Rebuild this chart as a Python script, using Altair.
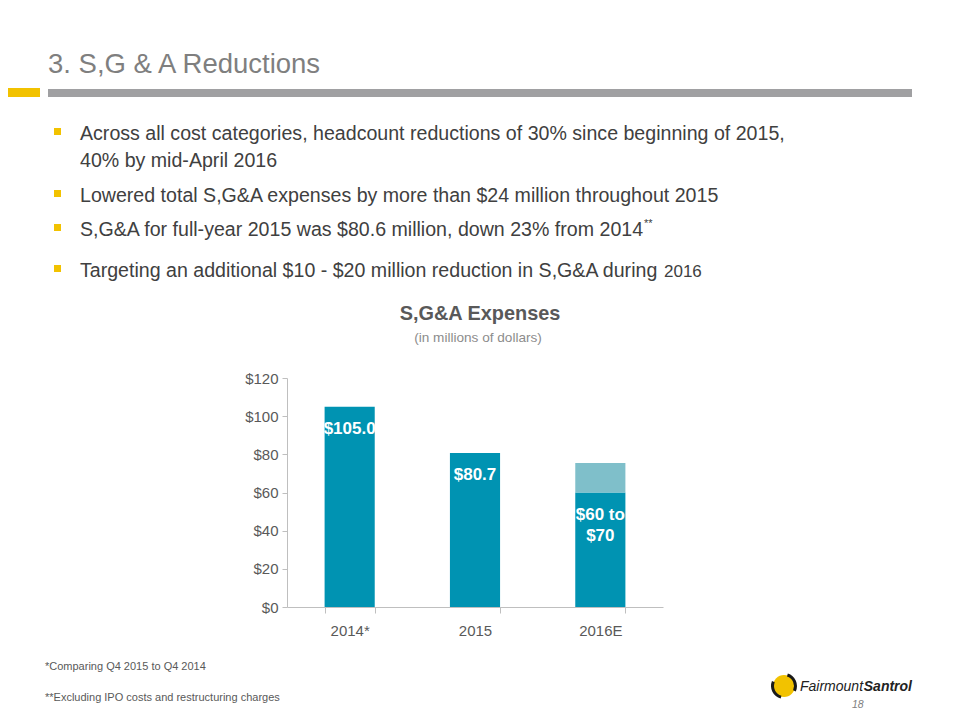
import altair as alt
import pandas as pd

categories = ["2014*", "2015", "2016E"]
low_values = [105.0, 80.7, 60.0]
high_values = [105.0, 80.7, 75.5]
bar_labels = ["$105.0", "$80.7", "$60 to\n$70"]

title_text = "3. S,G & A  Reductions"
bullets = [
    ["Across all cost categories, headcount reductions of 30% since beginning of 2015,",
     "40% by mid-April 2016"],
    ["Lowered total S,G&A expenses by more than $24 million throughout 2015"],
    ["S,G&A for full-year 2015 was $80.6 million, down 23% from 2014"],
    ["Targeting an additional $10 - $20 million reduction in S,G&A during"],
]
chart_title = "S,G&A Expenses"
chart_subtitle = "(in millions of dollars)"
footnotes = ["*Comparing Q4 2015 to Q4 2014", "**Excluding IPO costs and restructuring charges"]

FONT = "Liberation Sans, Arial, sans-serif"
OX, OY = 287, 378  # plot origin on page
W, H = 376, 229
TEAL = "#0093B2"
LIGHT = "#7FBFCA"
GRAY = "#404040"

df = pd.DataFrame({"cat": categories, "low": low_values, "high": high_values, "label": bar_labels})

xenc = alt.X("cat:N", sort=categories, title=None,
             scale=alt.Scale(paddingInner=0.6, paddingOuter=0.3),
             axis=alt.Axis(labelAngle=0, labelFont=FONT, labelFontSize=15, labelColor="#595959",
                           domainColor="#BFBFBF", tickColor="#BFBFBF", tickBand="extent",
                           tickSize=6, labelPadding=10))
yenc = alt.Y("low:Q", title=None,
             scale=alt.Scale(domain=[0, 120]),
             axis=alt.Axis(values=[0, 20, 40, 60, 80, 100, 120], format="$,.0f", grid=False,
                           labelOverlap=False,
                           labelFont=FONT, labelFontSize=15, labelColor="#595959",
                           domainColor="#BFBFBF", tickColor="#BFBFBF", tickSize=5, labelPadding=4))

base = alt.Chart(df)
dark = base.mark_bar(color=TEAL).encode(x=xenc, y=yenc)
light = base.transform_filter("datum.high > datum.low").mark_bar(color=LIGHT).encode(
    x=xenc, y=yenc, y2="high:Q")
labels = base.mark_text(color="white", fontWeight="bold", font=FONT, fontSize=17, baseline="top",
                        dy=14, lineBreak="\n", lineHeight=21).encode(
    x=xenc, y=yenc, text="label:N")

def txt(s, X, Y, size, color=GRAY, weight="normal", align="left", style="normal", font=FONT):
    return alt.Chart(pd.DataFrame({"t": [s]})).mark_text(
        align=align, baseline="alphabetic", fontSize=size, color=color, fontWeight=weight,
        fontStyle=style, font=font).encode(
        x=alt.value(X - OX), y=alt.value(Y - OY), text="t:N")

def rect(x1, x2, y1, y2, color):
    return alt.Chart(pd.DataFrame({"a": [0]})).mark_rect(color=color).encode(
        x=alt.value(x1 - OX), x2=alt.value(x2 - OX), y=alt.value(y1 - OY), y2=alt.value(y2 - OY))

layers = [dark, light, labels]
layers.append(txt(title_text, 48, 73, 27.5, color="#7F7F7F"))
layers.append(rect(0, 40, 88, 97, "#F2C200"))
layers.append(rect(48, 912, 89, 97, "#A0A0A2"))

BS = 19.6
bullet_y = [140, 202, 236, 277]
layers.append(txt(bullets[0][0], 80, 140, BS))
layers.append(txt(bullets[0][1], 80, 167, BS))
layers.append(txt(bullets[1][0], 80, 202, BS))
layers.append(txt(bullets[2][0], 80, 236, BS))
layers.append(txt("**", 644, 227, 11))
layers.append(txt(bullets[3][0], 80, 277, BS))
layers.append(txt("2016", 664, 277, 17))
for by in bullet_y:
    layers.append(rect(54, 61, by - 12, by - 5, "#F2C200"))

layers.append(txt(chart_title, 480, 320, 19.9, color="#595959", weight="bold", align="center"))
layers.append(txt(chart_subtitle, 478, 342, 13.6, color="#8C8C8C", align="center"))
layers.append(txt(footnotes[0], 45, 670, 11, color="#595959"))
layers.append(txt(footnotes[1], 45, 701, 11, color="#595959"))

# logo
logo = alt.Chart(pd.DataFrame({"a": [0]})).mark_arc(color="#F2C200", radius=11).encode(
    x=alt.value(784 - OX), y=alt.value(686 - OY), theta=alt.value(6.2832))
logo2 = alt.Chart(pd.DataFrame({"a": [0]})).mark_arc(color="#1a1a1a", radius=13, radius2=10,
                                                     theta=0.3, theta2=2.0).encode(
    x=alt.value(784 - OX), y=alt.value(686 - OY))
logo3 = alt.Chart(pd.DataFrame({"a": [0]})).mark_arc(color="#1a1a1a", radius=13, radius2=10,
                                                     theta=3.4, theta2=5.1).encode(
    x=alt.value(784 - OX), y=alt.value(686 - OY))
layers += [logo, logo2, logo3]
layers.append(txt("Fairmount", 800, 691, 14, color="#222222", style="italic"))
layers.append(txt("Santrol", 912, 691, 14, color="#222222", style="italic", weight="bold", align="right"))
layers.append(txt("18", 852, 708, 10.5, color="#808080", style="italic"))

chart = alt.layer(*layers).properties(
    width=W, height=H,
    autosize=alt.AutoSizeParams(type="none"),
    padding={"left": OX - 8, "top": OY - 8, "right": 944 - (OX - 8) - W, "bottom": 104},
    background="white",
).configure_view(stroke=None)

chart.save("out.html", embed_options={"renderer": "svg", "actions": False})
